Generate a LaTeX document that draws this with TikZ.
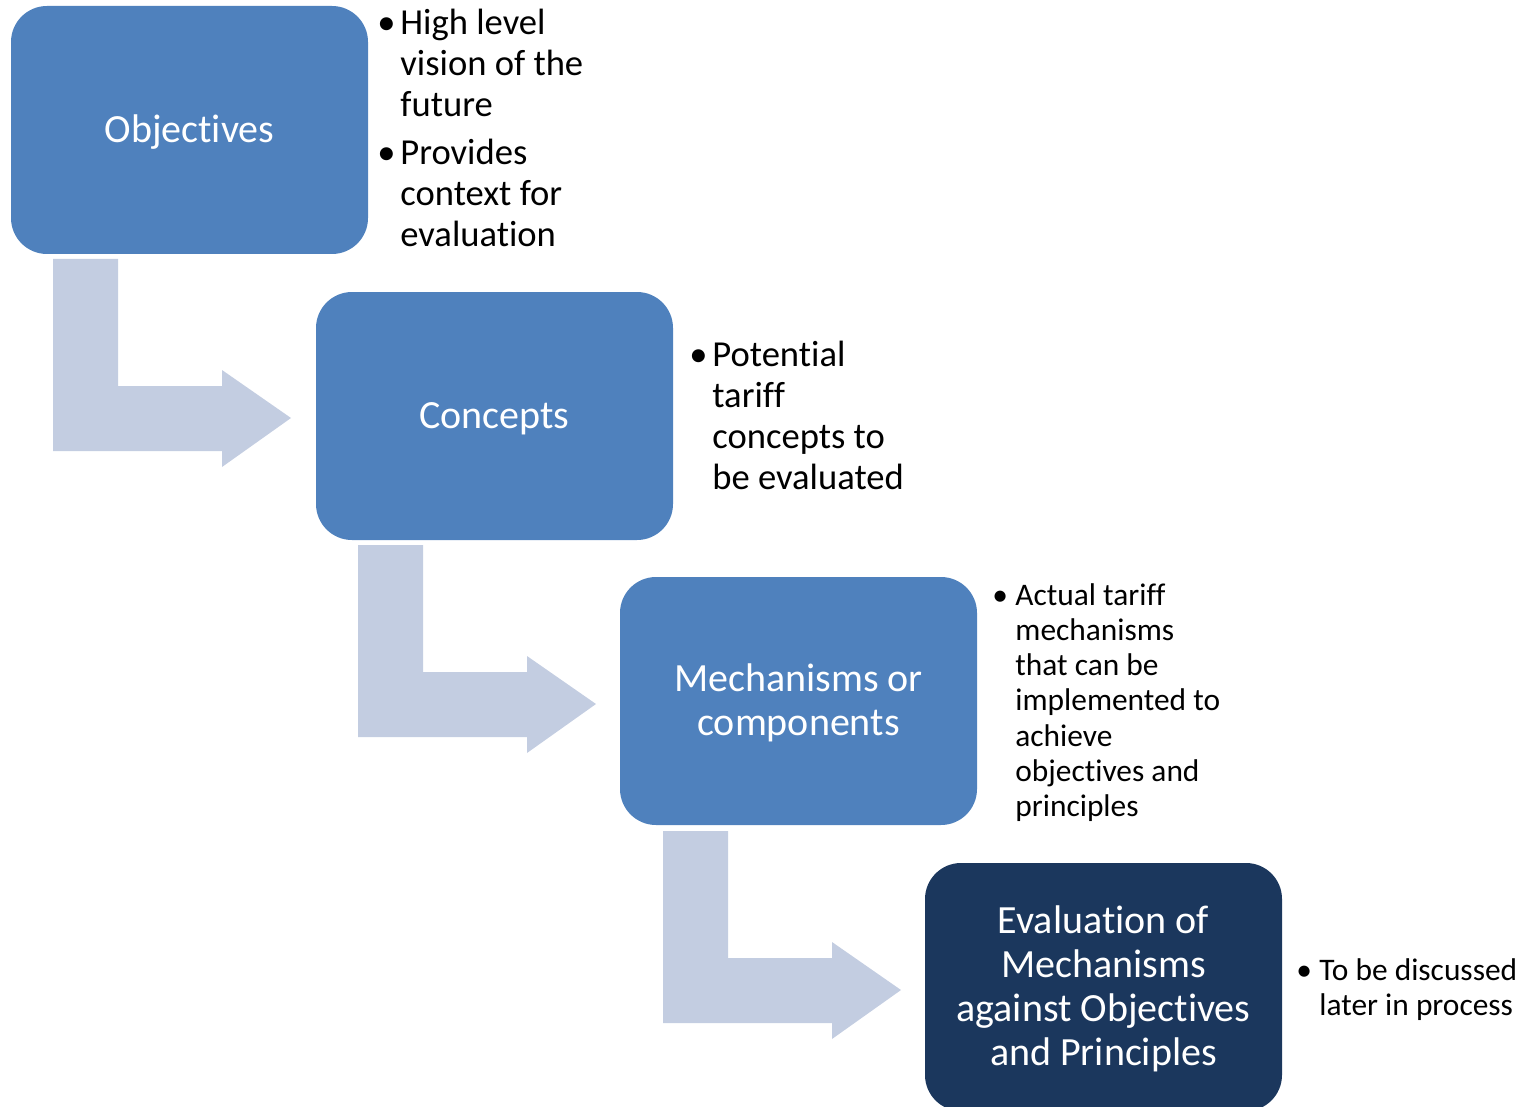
\documentclass[tikz,border=0pt]{standalone}
\usepackage{fontspec}
\setmainfont{Carlito}[RawFeature={-liga;-clig;-calt;-dlig}]
\definecolor{boxblue}{HTML}{4F81BD}
\definecolor{boxdark}{HTML}{1B375D}
\definecolor{arrowfill}{HTML}{C3CDE1}
\newcommand{\stagetext}[1]{\raisebox{-2pt}[\height][\depth]{\begin{tabular}{@{}c@{}}#1\end{tabular}}}
\begin{document}
\begin{tikzpicture}[x=0.5pt,y=-0.5pt,
  stage/.style={rectangle, rounded corners=18pt, minimum width=178.5pt, minimum height=124pt,
    inner sep=0pt, text=white, align=center, font=\fontsize{20pt}{22pt}\selectfont},
  note/.style={inner sep=0pt, anchor=base west, text=black},
  bignote/.style={note, font=\fontsize{18.3pt}{20.5pt}\selectfont},
  smallnote/.style={note, font=\fontsize{15.7pt}{17.65pt}\selectfont},
  bentarrow/.style={fill=arrowfill, draw=none}]
\useasboundingbox (0,0) rectangle (1530,1107);

% bent arrows
\foreach \dx/\dy in {0/0, 305/286, 610/572}{
  \fill[bentarrow] (53+\dx,259+\dy) -- (118+\dx,259+\dy) -- (118+\dx,386+\dy) -- (222+\dx,386+\dy)
    -- (222+\dx,370+\dy) -- (291+\dx,418+\dy) -- (222+\dx,467+\dy) -- (222+\dx,451+\dy)
    -- (53+\dx,451+\dy) -- cycle;
}

% stages
\node[stage, fill=boxblue] (obj) at (189.5,130) {\stagetext{Objectives}};
\node[stage, fill=boxblue] (con) at (494.5,416) {\stagetext{Concepts}};
\node[stage, fill=boxblue] (mec) at (798.5,701) {\stagetext{Mechanisms or\\components}};
\node[stage, fill=boxdark] (eva) at (1103.5,987) {\stagetext{Evaluation of\\Mechanisms\\against Objectives\\and Principles}};

% notes
\node[bignote] (objnote) at (377,35) {\begin{tabular}[t]{@{}l@{}l@{}}
\makebox[11.5pt][l]{\textbullet}&High level\\ &vision of the\\ &future\\[3.5pt]
\makebox[11.5pt][l]{\textbullet}&Provides\\ &context for\\ &evaluation\end{tabular}};
\node[bignote] (connote) at (689,366) {\begin{tabular}[t]{@{}l@{}l@{}}
\makebox[11.5pt][l]{\textbullet}&Potential\\ &tariff\\ &concepts to\\ &be evaluated\end{tabular}};
\node[smallnote] (mecnote) at (992,605) {\begin{tabular}[t]{@{}l@{}l@{}}
\makebox[11.5pt][l]{\textbullet}&Actual tariff\\ &mechanisms\\ &that can be\\ &implemented to\\ &achieve\\ &objectives and\\ &principles\end{tabular}};
\node[smallnote] (evanote) at (1296,980) {\begin{tabular}[t]{@{}l@{}l@{}}
\makebox[11.5pt][l]{\textbullet}&To be discussed\\ &later in process\end{tabular}};
\end{tikzpicture}
\end{document}
